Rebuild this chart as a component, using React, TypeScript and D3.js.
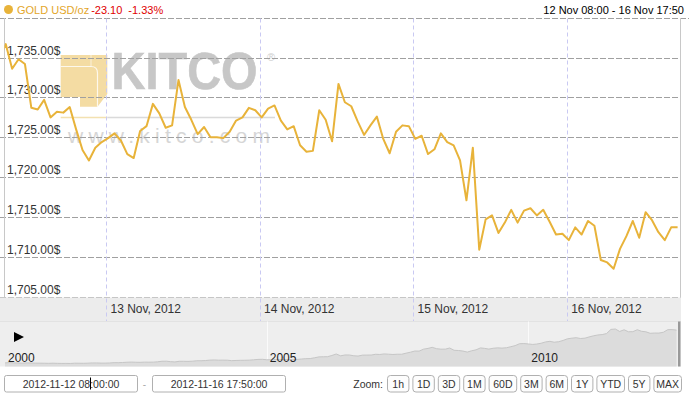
import React from 'react';
import * as d3 from 'd3';

const W = 689;
const H = 402;

// hourly spot gold, USD/oz, first value at 12 Nov 2012 07:20 then one per hour
const priceStart = new Date(2012, 10, 12, 7, 20);
const prices = [
  1734.9, 1736.7, 1733.6, 1734.8, 1734.2, 1728.7, 1728.5, 1729.7, 1727.5, 1728.2,
  1728.1, 1728.8, 1726.0, 1723.4, 1722.1, 1723.7, 1724.4, 1724.9, 1725.5, 1724.6,
  1722.9, 1722.4, 1725.8, 1726.4, 1729.2, 1728.0, 1726.2, 1726.5, 1732.2, 1728.8,
  1727.2, 1725.4, 1726.3, 1725.0, 1725.0, 1724.9, 1725.7, 1727.1, 1727.5, 1728.7,
  1728.4, 1727.5, 1728.6, 1729.0, 1727.1, 1726.0, 1726.4, 1724.0, 1723.2, 1723.3,
  1728.4, 1727.2, 1724.5, 1731.7, 1729.4, 1728.9, 1727.0, 1725.3, 1726.5, 1727.6,
  1724.8, 1723.0, 1725.7, 1726.5, 1726.4, 1724.8, 1725.2, 1722.9, 1723.5, 1725.5,
  1724.4, 1724.0, 1722.1, 1717.1, 1723.7, 1710.9, 1714.7, 1715.2, 1713.0, 1714.3,
  1715.9, 1714.3, 1715.8, 1716.1, 1715.2, 1715.9, 1714.4, 1712.8, 1712.9, 1712.1,
  1713.7, 1712.8, 1714.5, 1713.9, 1709.6, 1709.3, 1708.5, 1711.0, 1712.6, 1714.5,
  1712.4, 1715.6, 1714.6, 1713.1, 1712.1, 1713.7, 1713.7,
];

const rangeFrom = new Date(2012, 10, 12, 8, 0);
const rangeTo = new Date(2012, 10, 16, 17, 50);
const yTicks = [1705, 1710, 1715, 1720, 1725, 1730, 1735, 1740];
const yLabelTicks = [1705, 1710, 1715, 1720, 1725, 1730, 1735];
const dayTicks = [
  new Date(2012, 10, 13),
  new Date(2012, 10, 14),
  new Date(2012, 10, 15),
  new Date(2012, 10, 16),
];

// navigator: monthly gold, Jan 2000 .. Nov 2012
const navStart = new Date(2000, 0, 1);
const navPrices = [
  284, 300, 286, 280, 275, 285, 282, 274, 273, 270, 266, 272,
  265, 262, 263, 260, 272, 270, 268, 273, 283, 283, 276, 276,
  282, 296, 294, 302, 314, 321, 314, 310, 319, 317, 319, 333,
  357, 359, 340, 328, 355, 356, 351, 360, 379, 379, 389, 407,
  414, 405, 406, 404, 384, 392, 398, 400, 406, 420, 439, 442,
  424, 423, 434, 429, 422, 430, 424, 438, 456, 470, 476, 510,
  549, 555, 557, 610, 676, 596, 633, 632, 598, 585, 627, 629,
  631, 664, 655, 679, 667, 655, 665, 665, 712, 754, 806, 803,
  889, 922, 968, 909, 888, 889, 939, 839, 829, 806, 760, 816,
  858, 943, 924, 890, 928, 945, 934, 949, 996, 1043, 1127, 1134,
  1117, 1095, 1113, 1148, 1205, 1232, 1193, 1215, 1271, 1343, 1370, 1391,
  1356, 1372, 1424, 1474, 1510, 1529, 1572, 1756, 1772, 1665, 1739, 1652,
  1656, 1742, 1673, 1650, 1585, 1596, 1594, 1630, 1744, 1747, 1725,
];
const navYears = [2000, 2005, 2010];

const symbol = 'GOLD USD/oz';
const change = '-23.10';
const changePct = '-1.33%';
const rangeText = '12 Nov 08:00 - 16 Nov 17:50';
const rangeInputs = ['2012-11-12 08:00:00', '2012-11-16 17:50:00'];
const zoomButtons = ['1h', '1D', '3D', '1M', '60D', '3M', '6M', '1Y', 'YTD', '5Y', 'MAX'];

const FONT = '"Liberation Sans", Arial, Helvetica, sans-serif';
const GOLD = '#e8b33a';

const App: React.FC = () => {
  const plotLeft = 4.5;
  const plotRight = 680.5;
  const plotBottom = 296.7;
  const bandBottom = 321.5;
  const navBottom = 366.5;

  const x = d3.scaleTime().domain([rangeFrom, rangeTo]).range([3.6, 680.8]);
  const y = d3.scaleLinear().domain([1705, 1740]).range([plotBottom, 17.8]);

  const series = prices.map((v, i) => ({ t: d3.timeHour.offset(priceStart, i), v }));
  const line = d3
    .line<{ t: Date; v: number }>()
    .x((d) => x(d.t))
    .y((d) => y(d.v));

  const xn = d3
    .scaleTime()
    .domain([navStart, new Date(2012, 10, 16)])
    .range([5, 678.7]);
  const yn = d3.scaleLinear().domain([127, 1905]).range([navBottom, 326]);
  const navSeries = navPrices.map((v, i) => ({ t: d3.timeMonth.offset(navStart, i), v }));
  const navArea = d3
    .area<{ t: Date; v: number }>()
    .x((d) => xn(d.t))
    .y0(navBottom)
    .y1((d) => yn(d.v));
  const navLine = d3
    .line<{ t: Date; v: number }>()
    .x((d) => xn(d.t))
    .y((d) => yn(d.v));

  const fmtPrice = (v: number) => d3.format(',.2f')(v) + '$';
  const fmtDay = d3.timeFormat('%-d %b, %Y');
  const crisp = (v: number) => Math.round(v) + 0.5;

  // zoom buttons laid out from the right edge
  const btnGap = 4;
  const btnW = zoomButtons.map((b) => 9 + b.length * 6.2);
  const totalW = d3.sum(btnW) + btnGap * (zoomButtons.length - 1);
  let bx = 681 - totalW;
  const btnX = btnW.map((w) => {
    const p = bx;
    bx += w + btnGap;
    return p;
  });

  return (
    <svg
      width={W}
      height={H}
      style={{ position: 'absolute', left: 0, top: 0, background: '#fff' }}
      fontFamily={FONT}
    >
      <defs>
        <clipPath id="plot-clip">
          <rect x={plotLeft} y={0} width={plotRight - plotLeft} height={plotBottom} />
        </clipPath>
      </defs>

      {/* header */}
      <circle cx={8.5} cy={9.5} r={4.5} fill={GOLD} />
      <text x={17} y={14} fontSize={11}>
        <tspan fill="#e3a62a">{symbol}</tspan>
        <tspan fill="#e00000" dx={2}>{change}</tspan>
        <tspan fill="#e00000" dx={6}>{changePct}</tspan>
      </text>
      <text x={684} y={14} fontSize={11} textAnchor="end" fill="#000">
        {rangeText}
      </text>

      {/* watermark */}
      <g opacity={0.85}>
        <path
          d="M60.7,55 H107.3 V94 L97.5,106.7 H80 V97 H60.7 Z"
          fill="#f0cc78"
          opacity={0.8}
        />
        <path d="M60.7,66.5 H91 Q97.5,66.5 97.5,73 V106.7" fill="none" stroke="#fff" strokeWidth={1.2} opacity={0.8} />
        <path d="M91,55 V66.5" fill="none" stroke="#fff" strokeWidth={1} opacity={0.6} />
        <text
          transform="translate(111.5,88.5) scale(1,1.1)"
          fontSize={47}
          fontWeight="bold"
          fill="#bebebe"
          stroke="#bebebe"
          strokeWidth={0.6}
        >
          KITCO
        </text>
        <text x={267} y={61} fontSize={11} fill="#c8c8c8">
          ®
        </text>
        <line x1={60.7} x2={107.3} y1={117.5} y2={117.5} stroke="#f2dca3" strokeWidth={1.5} />
        <line x1={107.3} x2={275} y1={117.5} y2={117.5} stroke="#d4d4d4" strokeWidth={1.5} />
        <text
          x={68}
          y={142.5}
          fontSize={21}
          fill="#d0d0d0"
          textLength={202}
          lengthAdjust="spacing"
        >
          www.kitco.com
        </text>
      </g>

      {/* horizontal grid */}
      {yTicks.map((t) => (
        <line
          key={t}
          x1={0}
          x2={t === 1740 ? W : plotRight}
          y1={crisp(y(t))}
          y2={crisp(y(t))}
          stroke="#a0a0a0"
          strokeDasharray="6,2"
        />
      ))}

      {/* x axis band */}
      <rect x={0} y={crisp(plotBottom)} width={681} height={bandBottom - crisp(plotBottom)} fill="#ececec" />

      {/* day lines */}
      {dayTicks.map((d) => (
        <line
          key={+d}
          x1={crisp(x(d))}
          x2={crisp(x(d))}
          y1={18.5}
          y2={bandBottom}
          stroke="#c9c9f2"
          strokeDasharray="4,3"
        />
      ))}

      {/* plot borders */}
      <line x1={plotLeft} x2={plotLeft} y1={18} y2={crisp(plotBottom)} stroke="#c8c8c8" />
      <line x1={plotRight} x2={plotRight} y1={18} y2={crisp(plotBottom)} stroke="#c8c8c8" />

      {/* y labels */}
      {yLabelTicks.map((t) => (
        <text key={t} x={7} y={y(t) - 3} fontSize={12} fill="#333">
          {fmtPrice(t)}
        </text>
      ))}

      {/* x labels */}
      {dayTicks.map((d) => (
        <text key={+d} x={x(d) + 4.5} y={313} fontSize={12} fill="#333">
          {fmtDay(d)}
        </text>
      ))}

      {/* price line */}
      <g clipPath="url(#plot-clip)">
        <path d={line(series) || ''} fill="none" stroke={GOLD} strokeWidth={2} strokeLinejoin="round" />
      </g>

      {/* navigator */}
      <rect x={0} y={bandBottom} width={681} height={navBottom - bandBottom} fill="#eeeeee" />
      <line x1={0} x2={681} y1={bandBottom} y2={bandBottom} stroke="#e2e2e2" />
      {navYears.slice(1).map((yr) => (
        <line
          key={yr}
          x1={crisp(xn(new Date(yr, 0, 1)))}
          x2={crisp(xn(new Date(yr, 0, 1)))}
          y1={bandBottom}
          y2={navBottom}
          stroke="#fafafa"
        />
      ))}
      <path d={navArea(navSeries) || ''} fill="#dcdcdc" />
      <path d={navLine(navSeries) || ''} fill="none" stroke="#c6c6c6" strokeWidth={1} />
      {navYears.map((yr) => (
        <text key={yr} x={xn(new Date(yr, 0, 1)) + 3} y={361.5} fontSize={12} fill="#222">
          {yr}
        </text>
      ))}
      <path d="M14,332 L24,337 L14,342 Z" fill="#000" />
      <rect x={678} y={bandBottom} width={2.5} height={navBottom - bandBottom} fill="#999" />

      {/* range inputs */}
      {rangeInputs.map((txt, i) => {
        const ix = i === 0 ? 4.5 : 152.5;
        return (
          <g key={txt}>
            <rect x={ix} y={375.5} width={133} height={16.5} rx={2} fill="#fff" stroke="#b0b0b0" />
            <text x={ix + 66.5} y={388} fontSize={10.5} textAnchor="middle" fill="#333">
              {txt}
            </text>
          </g>
        );
      })}
      <line x1={90.5} x2={90.5} y1={377.5} y2={389.5} stroke="#000" />
      <text x={144.5} y={387.5} fontSize={10} textAnchor="middle" fill="#aaa">
        -
      </text>

      {/* zoom buttons */}
      <text x={btnX[0] - 4} y={388} fontSize={10.5} textAnchor="end" fill="#333">
        Zoom:
      </text>
      {zoomButtons.map((b, i) => (
        <g key={b}>
          <rect x={btnX[i] + 0.5} y={375.5} width={btnW[i]} height={16.5} rx={3} fill="#fdfdfd" stroke="#b0b0b0" />
          <text x={btnX[i] + 0.5 + btnW[i] / 2} y={388} fontSize={10.5} textAnchor="middle" fill="#333">
            {b}
          </text>
        </g>
      ))}
    </svg>
  );
};

export default App;
